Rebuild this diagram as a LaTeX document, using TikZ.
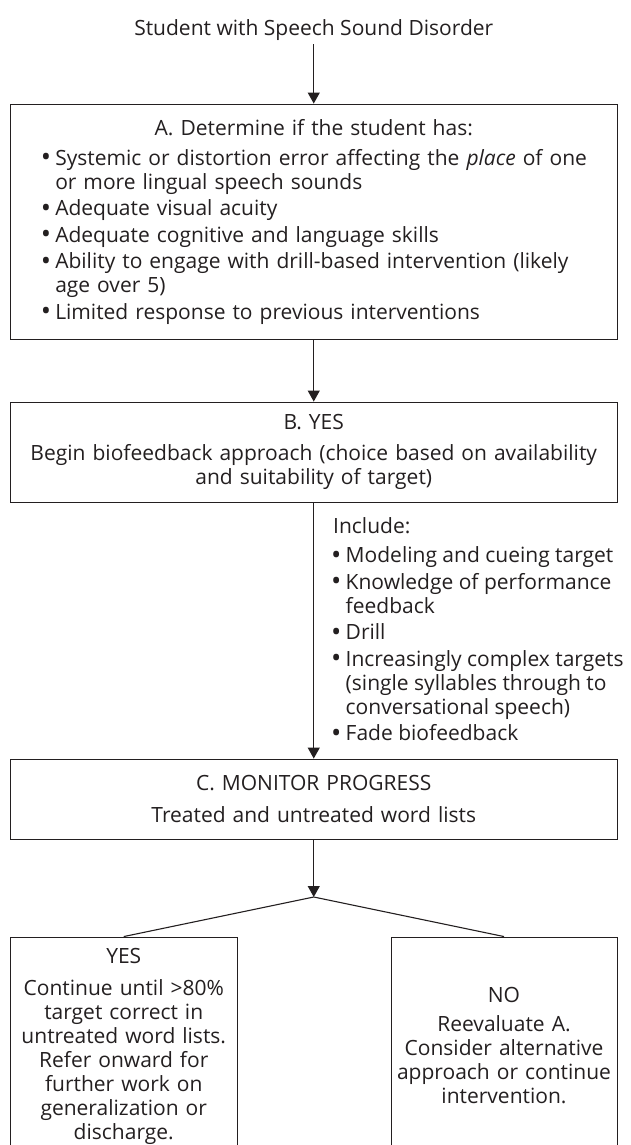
\documentclass[tikz,border=0pt]{standalone}
\usepackage{fontspec}
\setmainfont{Open Sans}
\usepackage{graphicx}
\usepackage{tikz}
\usetikzlibrary{arrows.meta}
\definecolor{ink}{HTML}{231F20}
\tikzset{
  box/.style={draw=ink, line width=0.9pt, inner sep=0pt, text=ink},
  link/.style={draw=ink, line width=1.1pt, -{Triangle[width=12pt,length=11pt]}},
  wire/.style={draw=ink, line width=1.1pt},
}
\newcommand{\itm}{\makebox[12.5pt][l]{\hspace*{-2pt}\raisebox{-1.5pt}{\scalebox{1.3}{\textbullet}}}}
\newcommand{\hang}{\hspace*{12.5pt}}

\begin{document}
\begin{tikzpicture}[x=1pt,y=-1pt,font=\fontsize{21}{24}\selectfont,every node/.style={text=ink}]
  \useasboundingbox (0,0) rectangle (630,1145);
  % top label
  \node (start) at (313.75,30) {Student with Speech Sound Disorder};
  % A
  \node[box, minimum width=606.5pt, minimum height=235pt, text width=542pt, align=left] (A) at (313.75,221.5) {%
    \hfill A. Determine if the student has:\hfill\null\\[6pt]
    \itm\mbox{Systemic or distortion error affecting the \textit{place} of one}\\
    \hang or more lingual speech sounds\\[2.5pt]
    \itm Adequate visual acuity\\[2.5pt]
    \itm Adequate cognitive and language skills\\[2.5pt]
    \itm\mbox{Ability to engage with drill-based intervention (likely}\\
    \hang age over 5)\\[2.5pt]
    \itm Limited response to previous interventions};
  % B
  \node[box, minimum width=606.5pt, minimum height=100pt, text width=595pt, align=center] (B) at (313.75,452) {%
    B. YES\\[7pt]
    Begin biofeedback approach (choice based on availability\\
    and suitability of target)};
  % what B includes
  \node[anchor=west, inner sep=0pt, align=left] (incl) at (333,630) {%
    Include:\\[5pt]
    \itm Modeling and cueing target\\[2.5pt]
    \itm Knowledge of performance\\
    \hang feedback\\[2.5pt]
    \itm Drill\\[2.5pt]
    \itm Increasingly complex targets\\
    \hang (single syllables through to\\
    \hang conversational speech)\\[2.5pt]
    \itm Fade biofeedback};
  % C
  \node[box, minimum width=606.5pt, minimum height=80pt, text width=590pt, align=center] (C) at (313.75,799) {%
    C. MONITOR PROGRESS\\[8pt]
    Treated and untreated word lists};
  \coordinate (split) at (313.75,897);
  % outcomes
  \node[box, minimum width=226.5pt, minimum height=218pt, text width=222pt, align=center] (yes) at (123.75,1046) {%
    YES\\[8pt]
    Continue until >80\%\\
    target correct in\\
    untreated word lists.\\
    Refer onward for\\
    further work on\\
    generalization or\\
    discharge.};
  \node[box, minimum width=226pt, minimum height=218pt, text width=222pt, align=center] (no) at (504,1046) {%
    NO\\[5pt]
    Reevaluate A.\\
    Consider alternative\\
    approach or continue\\
    intervention.};
  % arrows
  \draw[link] (start) -- (A);
  \draw[link] (A) -- (B);
  \draw[link] (B) -- (C);
  \draw[link] (C) -- (split);
  \draw[wire] (yes.north) -- (split) -- (no.north);
\end{tikzpicture}
\end{document}
